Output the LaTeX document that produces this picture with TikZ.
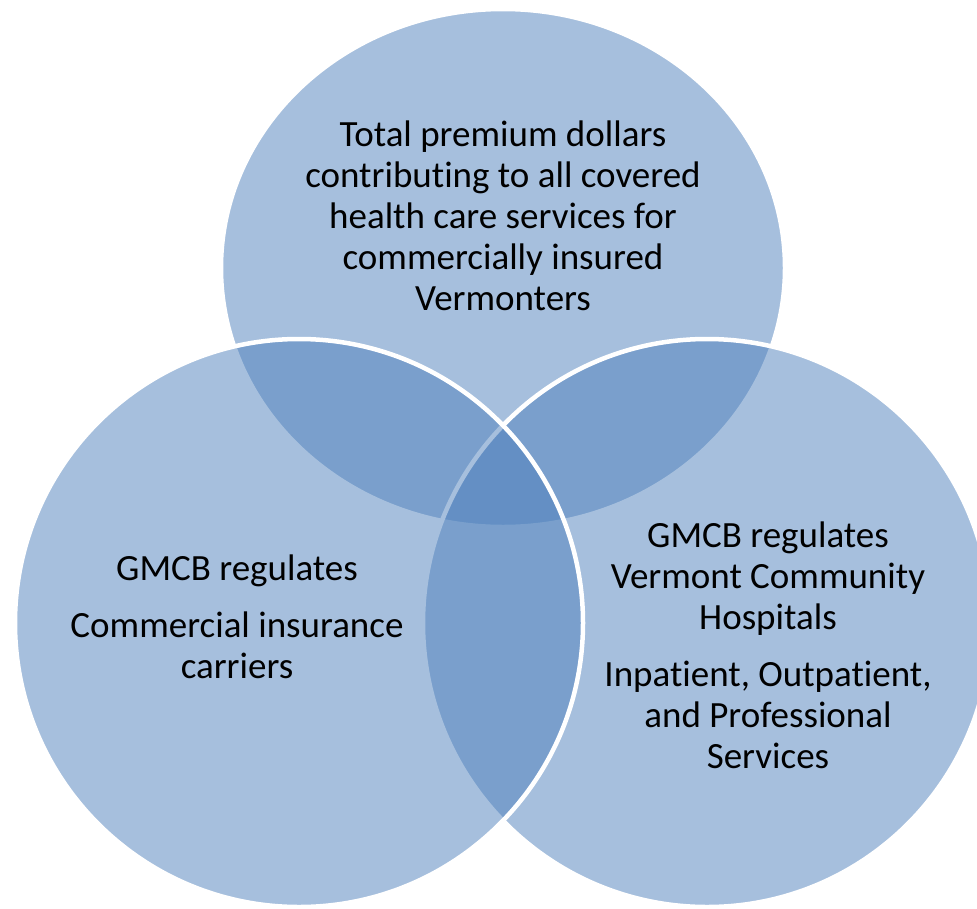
\documentclass[tikz,border=0pt]{standalone}
\usepackage{fontspec}
\setmainfont{Carlito}[Ligatures=NoCommon,RawFeature={-liga;-dlig;-clig}]
\definecolor{vennblue}{HTML}{4F81BD}
\begin{document}
\begin{tikzpicture}[x=1pt,y=-1pt,
  venn/.style={fill=vennblue,fill opacity=0.5,draw=white,draw opacity=1,line width=4.5pt},
  vtext/.style={align=center,text=black,inner sep=0pt,font=\fontsize{37}{41}\selectfont}]
\useasboundingbox (0,0) rectangle (977,908);
\clip (0,0) rectangle (977,908);
\fill[white] (0,0) rectangle (977,908);
% circles: top, right, left (drawing order)
\filldraw[venn] (503,268) ellipse [x radius=282, y radius=259];
\filldraw[venn] (707,623) circle [radius=284];
\filldraw[venn] (299,623) circle [radius=284];
% texts
\node[vtext] (toptext) at (503,216) {Total premium dollars\\contributing to all covered\\health care services for\\commercially insured\\Vermonters};
\node[vtext] (lefttext) at (237,617) {GMCB regulates\\[16pt]Commercial insurance\\carriers};
\node[vtext] (righttext) at (768,645) {GMCB regulates\\Vermont Community\\Hospitals\\[16pt]Inpatient, Outpatient,\\and Professional\\Services};
\end{tikzpicture}
\end{document}
